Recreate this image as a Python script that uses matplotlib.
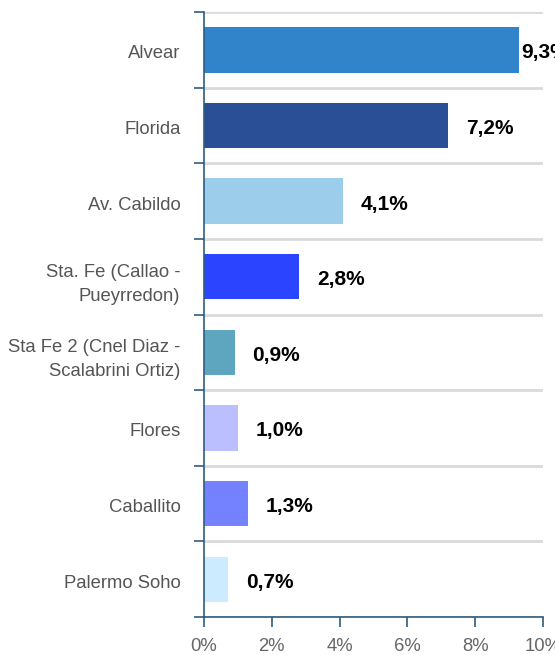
import numpy as np
import matplotlib.pyplot as plt
import matplotlib.transforms as mtransforms
from matplotlib.ticker import FuncFormatter

plt.rcParams['font.family'] = ['Liberation Sans', 'DejaVu Sans']

zones = [
    "Alvear",
    "Florida",
    "Av. Cabildo",
    "Sta. Fe (Callao -\nPueyrredon)",
    "Sta Fe 2 (Cnel Diaz -\nScalabrini Ortiz)",
    "Flores",
    "Caballito",
    "Palermo Soho",
]
vacancy = [9.3, 7.2, 4.1, 2.8, 0.9, 1.0, 1.3, 0.7]
colors = ["#3183ca", "#2b4f97", "#9ccdea", "#2b44ff",
          "#5ea6c0", "#bbbfff", "#7582ff", "#ccebff"]
x_ticks = [0, 2, 4, 6, 8, 10]

fig = plt.figure(figsize=(5.55, 6.55), dpi=100)
ax = fig.add_axes([204 / 555, 38 / 655, 339 / 555, 605 / 655])

y = np.arange(len(zones))
ax.barh(y, vacancy, height=0.6, color=colors, zorder=2)

ax.set_xlim(0, 10)
ax.set_ylim(len(zones) - 0.5, -0.5)

# value labels, nudged back when they would run off the plot
for yi, v in zip(y, vacancy):
    off = 2 if v > 9 else 18
    ax.annotate(f"{v:.1f}%".replace(".", ","), (v, yi),
                xytext=(off * 0.72, -2.2), textcoords="offset points",
                va="center", ha="left", fontsize=15, fontweight="bold",
                color="black", annotation_clip=False, zorder=3)

# category labels at band centres, ticks and grid at band edges
ax.set_yticks(y)
ax.set_yticklabels(zones, linespacing=1.55)
ax.set_yticks(np.arange(len(zones) + 1) - 0.5, minor=True)
ax.tick_params(axis="y", which="major", length=0, pad=17,
               labelsize=13.3, labelcolor="#555555")
ax.tick_params(axis="y", which="minor", length=7, width=1.2,
               color="#2e5c80")
ax.grid(axis="y", which="minor", color="#dadada", linewidth=2, zorder=0)
shift = mtransforms.ScaledTranslation(0, -2 / 100, fig.dpi_scale_trans)
for lab in ax.get_yticklabels():
    lab.set_horizontalalignment("right")
    lab.set_transform(lab.get_transform() + shift)

ax.set_xticks(x_ticks)
ax.xaxis.set_major_formatter(FuncFormatter(lambda v, p: f"{v:.0f}%"))
ax.tick_params(axis="x", length=7, width=1.2, color="#2e5c80",
               labelsize=13.3, labelcolor="#666666", pad=8)

for side in ("top", "right"):
    ax.spines[side].set_visible(False)
for side in ("left", "bottom"):
    ax.spines[side].set_color("#2e5c80")
    ax.spines[side].set_linewidth(1.2)

fig.savefig("out.png", dpi=100)
